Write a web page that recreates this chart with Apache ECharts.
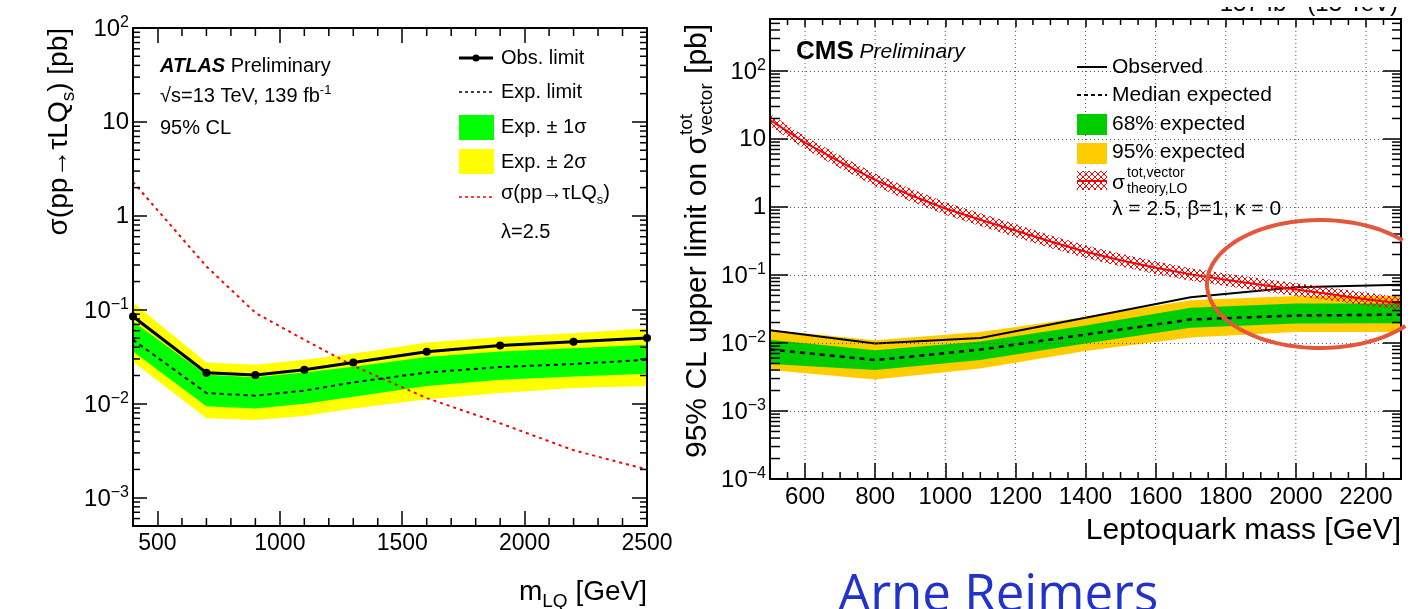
<!DOCTYPE html>
<html>
<head>
<meta charset="utf-8">
<title>Leptoquark limits: ATLAS vs CMS</title>
<script src="https://cdn.jsdelivr.net/npm/echarts@6.0.0/dist/echarts.min.js"></script>
<style>
  html, body { margin: 0; padding: 0; background: #fff; }
  #chart { width: 1420px; height: 609px; }
</style>
</head>
<body>
<div id="chart"></div>
<script>
var FONT = "'Liberation Sans', Arial, Helvetica, sans-serif";

// ---- ATLAS panel (left) ----
var atlasMass = [400, 700, 900, 1100, 1300, 1600, 1900, 2200, 2500];
var atlasObs = [0.085, 0.0214, 0.0203, 0.023, 0.0275, 0.0357, 0.0417, 0.0457, 0.050];
var atlasExp = [0.048, 0.013, 0.0122, 0.0138, 0.0169, 0.0215, 0.0246, 0.0265, 0.0294];
var atlas1sUp = [0.075, 0.0204, 0.0192, 0.0215, 0.0248, 0.0314, 0.036, 0.039, 0.0425];
var atlas1sDn = [0.036, 0.0094, 0.0089, 0.010, 0.0119, 0.0155, 0.018, 0.0195, 0.0209];
var atlas2sUp = [0.12, 0.0275, 0.026, 0.0294, 0.034, 0.0449, 0.0513, 0.0565, 0.0638];
var atlas2sDn = [0.028, 0.0070, 0.0067, 0.0074, 0.0089, 0.0112, 0.013, 0.0147, 0.0155];
var atlasTheory = [2.3, 0.29, 0.093, 0.048, 0.0254, 0.0115, 0.0062, 0.0032, 0.002];
var atlasXTicks = [500, 1000, 1500, 2000, 2500];

// ---- CMS panel (right) ----
var cmsMass = [500, 800, 1100, 1400, 1700, 2000, 2300];
var cmsObs = [0.0154, 0.0098, 0.0118, 0.0235, 0.047, 0.066, 0.072];
var cmsExp = [0.008, 0.0056, 0.008, 0.0133, 0.0221, 0.0253, 0.0261];
var cms68Up = [0.0112, 0.0078, 0.0105, 0.018, 0.033, 0.038, 0.038];
var cms68Dn = [0.0049, 0.0040, 0.0056, 0.0098, 0.0168, 0.0193, 0.0195];
var cms95Up = [0.0157, 0.011, 0.0145, 0.024, 0.0425, 0.049, 0.049];
var cms95Dn = [0.0040, 0.0029, 0.0042, 0.0076, 0.012, 0.0145, 0.0145];
var cmsTheoryMass = [500, 600, 700, 800, 900, 1000, 1100, 1200, 1300, 1400, 1500, 1600, 1700, 1800, 1900, 2000, 2100, 2200, 2300];
var cmsTheory = [19, 8.8, 4.6, 2.5, 1.5, 0.95, 0.65, 0.45, 0.31, 0.22, 0.165, 0.128, 0.102, 0.085, 0.072, 0.061, 0.052, 0.044, 0.038];
var cmsTheoryUp = [23.5, 10.9, 5.7, 3.1, 1.86, 1.18, 0.81, 0.56, 0.385, 0.273, 0.205, 0.159, 0.126, 0.105, 0.089, 0.076, 0.065, 0.055, 0.047];
var cmsTheoryDn = [15.4, 7.1, 3.7, 2.02, 1.21, 0.77, 0.525, 0.363, 0.25, 0.178, 0.133, 0.103, 0.082, 0.069, 0.058, 0.049, 0.042, 0.0355, 0.0307];
var cmsXTicks = [600, 800, 1000, 1200, 1400, 1600, 1800, 2000, 2200];

// minor ticks (axis decoration only)
var atlasXMinor = [];
for (var a = 400; a <= 2500; a += 100) { if (a % 500) atlasXMinor.push(a); }
var cmsXMinor = [];
for (var c = 500; c <= 2300; c += 50) { if (c % 200) cmsXMinor.push(c); }
function logMinors(lo, hi) {
  var out = [];
  for (var e = -5; e <= 3; e++) {
    for (var k = 2; k <= 9; k++) {
      var v = k * Math.pow(10, e);
      if (v > lo && v < hi) out.push(v);
    }
  }
  return out;
}

function pairs(xs, ys) {
  return xs.map(function (x, i) { return [x, ys[i]]; });
}

function decadeLabel(v) {
  var l = Math.log10(v), e = Math.round(l);
  if (Math.abs(l - e) > 1e-6) return '';
  if (e === 0) return '{b|1}';
  if (e === 1) return '{b|10}';
  return '{b|10}{s|' + (e < 0 ? '\u2212' + (-e) : e) + '}';
}

function bandSeries(name, xi, yi, mass, lo, hi, fill, z) {
  return {
    name: name, type: 'custom', xAxisIndex: xi, yAxisIndex: yi, z: z, silent: true,
    data: mass.map(function (m, i) { return [m, lo[i], hi[i]]; }),
    encode: { x: 0, y: [1, 2] },
    renderItem: function (params, api) {
      if (params.dataIndex !== 0) return null;
      var pts = [];
      for (var i = 0; i < mass.length; i++) pts.push(api.coord([mass[i], hi[i]]));
      for (var j = mass.length - 1; j >= 0; j--) pts.push(api.coord([mass[j], lo[j]]));
      return { type: 'polygon', shape: { points: pts }, style: { fill: fill } };
    }
  };
}

function minorTicks(xi, yi, dim, values, ref, lenA, lenB) {
  return {
    type: 'custom', xAxisIndex: xi, yAxisIndex: yi, z: 6, silent: true,
    data: values.map(function (v) { return dim === 'x' ? [v, ref] : [ref, v]; }),
    renderItem: function (params, api) {
      var cs = params.coordSys;
      var p = api.coord([api.value(0), api.value(1)]);
      var st = { stroke: '#000', lineWidth: 1.5 };
      if (dim === 'x') {
        return { type: 'group', children: [
          { type: 'line', shape: { x1: p[0], y1: cs.y + cs.height, x2: p[0], y2: cs.y + cs.height - lenA }, style: st },
          { type: 'line', shape: { x1: p[0], y1: cs.y, x2: p[0], y2: cs.y + lenB }, style: st }
        ] };
      }
      return { type: 'group', children: [
        { type: 'line', shape: { x1: cs.x, y1: p[1], x2: cs.x + lenA, y2: p[1] }, style: st },
        { type: 'line', shape: { x1: cs.x + cs.width, y1: p[1], x2: cs.x + cs.width - lenB, y2: p[1] }, style: st }
      ] };
    }
  };
}

// dotted vertical grid lines at the major mass ticks
function xGridLines(xi, yi, values, ref) {
  return {
    type: 'custom', xAxisIndex: xi, yAxisIndex: yi, z: 0.5, silent: true,
    data: values.map(function (v) { return [v, ref]; }),
    renderItem: function (params, api) {
      var cs = params.coordSys;
      var p = api.coord([api.value(0), api.value(1)]);
      return { type: 'line', shape: { x1: p[0], y1: cs.y, x2: p[0], y2: cs.y + cs.height },
        style: { stroke: '#555', lineWidth: 1, lineDash: [1, 3] } };
    }
  };
}

function hatchPattern() {
  var cv = document.createElement('canvas');
  cv.width = 6; cv.height = 6;
  var ctx = cv.getContext('2d');
  ctx.strokeStyle = '#ff0000';
  ctx.lineWidth = 1;
  ctx.beginPath();
  ctx.moveTo(0, 0); ctx.lineTo(6, 6);
  ctx.moveTo(6, 0); ctx.lineTo(0, 6);
  ctx.stroke();
  return { image: cv, repeat: 'repeat' };
}
var HATCH = hatchPattern();

var mctx = document.createElement('canvas').getContext('2d');
function textWidth(str, size) {
  mctx.font = size + 'px ' + FONT;
  return mctx.measureText(str).width;
}

function xAxisDef(grid, pos, min, max, majors, len, labelSize, showLabel) {
  return {
    type: 'value', gridIndex: grid, position: pos, min: min, max: max, z: 5,
    axisLine: { show: true, onZero: false, lineStyle: { color: '#000', width: 2 } },
    axisTick: { show: true, inside: true, length: len, customValues: majors, lineStyle: { color: '#000', width: 1.5 } },
    axisLabel: {
      show: showLabel, customValues: majors, margin: 6, fontSize: labelSize, color: '#000', fontFamily: FONT,
      formatter: function (v) { return String(v); }
    },
    splitLine: { show: false }
  };
}

function yAxisDef(grid, pos, min, max, split, len, showLabel, splitNumber) {
  return {
    type: 'log', logBase: 10, gridIndex: grid, position: pos, min: min, max: max, splitNumber: splitNumber, z: 5,
    axisLine: { show: true, onZero: false, lineStyle: { color: '#000', width: 2 } },
    axisTick: { show: true, inside: true, length: len, lineStyle: { color: '#000', width: 1.5 } },
    axisLabel: {
      show: showLabel, margin: 4, color: '#000', fontFamily: FONT, formatter: decadeLabel,
      rich: {
        b: { fontSize: 24, fontFamily: FONT, color: '#000', verticalAlign: 'bottom' },
        s: { fontSize: 16, fontFamily: FONT, color: '#000', verticalAlign: 'bottom', padding: [0, 0, 11, 0] }
      }
    },
    minorTick: { show: false },
    splitLine: split ? { show: true, lineStyle: { color: '#555', type: [1, 3], width: 1 } } : { show: false }
  };
}

function tok(size, extra) {
  var t = { fontSize: size, fontFamily: FONT, fill: '#000' };
  if (extra) for (var k in extra) t[k] = extra[k];
  return t;
}
function text(x, y, str, size, extra) {
  var st = {
    text: str, font: size + 'px ' + FONT, fontSize: size, fontFamily: FONT, fill: '#000',
    textAlign: 'left', align: 'left', textVerticalAlign: 'middle', verticalAlign: 'middle'
  };
  if (extra) for (var k in extra) st[k] = extra[k];
  return { type: 'text', x: x, y: y, z: 50, style: st };
}

var supRich = function (base, sup) {
  return { b: tok(base, { verticalAlign: 'bottom' }), s: tok(sup, { verticalAlign: 'bottom', padding: [0, 0, Math.round(base * 0.45), 0] }) };
};
var subRich = function (base, sub) {
  return { m: tok(base, { verticalAlign: 'top' }), s: tok(sub, { verticalAlign: 'top', padding: [Math.round(base * 0.5), 0, 0, 0] }) };
};

// ---- graphic: labels, legends, titles, annotation ----
var g = [];
// ATLAS header
g.push(text(160, 66, '{a|ATLAS}{p| Preliminary}', 20, {
  rich: { a: tok(20, { fontStyle: 'italic', fontWeight: 'bold' }), p: tok(20) }
}));
g.push(text(160, 95, '{b|\u221As=13 TeV, 139 fb}{s|-1}', 20, { rich: supRich(20, 13) }));
g.push(text(160, 128, '95% CL', 20));
// ATLAS legend
g.push({ type: 'line', z: 50, shape: { x1: 459, y1: 58, x2: 493, y2: 58 }, style: { stroke: '#000', lineWidth: 3 } });
g.push({ type: 'circle', z: 51, shape: { cx: 476, cy: 58, r: 3.5 }, style: { fill: '#000' } });
g.push(text(501, 58, 'Obs. limit', 20));
g.push({ type: 'line', z: 50, shape: { x1: 459, y1: 92, x2: 493, y2: 92 }, style: { stroke: '#000', lineWidth: 1.5, lineDash: [3, 3] } });
g.push(text(501, 92, 'Exp. limit', 20));
g.push({ type: 'rect', z: 50, shape: { x: 459, y: 115, width: 35, height: 25 }, style: { fill: '#00ff00' } });
g.push(text(501, 127, 'Exp. \u00b1 1\u03c3', 20));
g.push({ type: 'rect', z: 50, shape: { x: 459, y: 149, width: 35, height: 25 }, style: { fill: '#ffff00' } });
g.push(text(501, 162, 'Exp. \u00b1 2\u03c3', 20));
g.push({ type: 'line', z: 50, shape: { x1: 459, y1: 197, x2: 493, y2: 197 }, style: { stroke: '#ff0000', lineWidth: 1.5, lineDash: [3, 3] } });
g.push(text(501, 195, '{m|\u03c3(pp\u2192\u03c4LQ}{s|s}{m|)}', 20, { rich: subRich(20, 13) }));
g.push(text(501, 232, '\u03bb=2.5', 20));
// ATLAS axis titles
g.push({ type: 'text', x: 62, y: 28, rotation: Math.PI / 2, z: 50, style: {
  text: '{m|\u03c3(pp\u2192\u03c4LQ}{s|s}{m|) [pb]}', rich: subRich(28, 19), fill: '#000',
  textAlign: 'right', align: 'right', textVerticalAlign: 'middle', verticalAlign: 'middle'
} });
g.push(text(647, 595, '{m|m}{s|LQ}{m| [GeV]}', 28, { rich: subRich(28, 19), textAlign: 'right', align: 'right' }));

// CMS header
g.push(text(796, 52, '{c|CMS}{p| Preliminary}', 26, {
  rich: { c: tok(26, { fontWeight: 'bold' }), p: tok(21, { fontStyle: 'italic' }) }
}));
// luminosity label, mostly cut off by the top edge of the slide
g.push(text(1398, 3, '{b|137 fb}{s|-1}{b| (13 TeV)}', 24, { rich: supRich(24, 16), textAlign: 'right', align: 'right' }));
g.push({ type: 'rect', z: 55, shape: { x: 1150, y: 0, width: 270, height: 7 }, style: { fill: '#fff' } });
// CMS legend
g.push({ type: 'line', z: 50, shape: { x1: 1077, y1: 67, x2: 1107, y2: 67 }, style: { stroke: '#000', lineWidth: 2 } });
g.push(text(1112, 67, 'Observed', 21));
g.push({ type: 'line', z: 50, shape: { x1: 1077, y1: 95, x2: 1107, y2: 95 }, style: { stroke: '#000', lineWidth: 2, lineDash: [4, 3] } });
g.push(text(1112, 95, 'Median expected', 21));
g.push({ type: 'rect', z: 50, shape: { x: 1077, y: 114, width: 30, height: 21 }, style: { fill: '#00cc00' } });
g.push(text(1112, 124, '68% expected', 21));
g.push({ type: 'rect', z: 50, shape: { x: 1077, y: 143, width: 30, height: 21 }, style: { fill: '#ffcc00' } });
g.push(text(1112, 152, '95% expected', 21));
g.push({ type: 'rect', z: 50, shape: { x: 1077, y: 171, width: 30, height: 19 }, style: { fill: HATCH } });
g.push({ type: 'line', z: 51, shape: { x1: 1077, y1: 181, x2: 1107, y2: 181 }, style: { stroke: '#ff0000', lineWidth: 2 } });
g.push(text(1112, 183, '\u03c3', 21));
g.push(text(1127, 173, 'tot,vector', 14));
g.push(text(1127, 189, 'theory,LO', 14));
g.push(text(1112, 209, '\u03bb = 2.5, \u03b2=1, \u03ba = 0', 21));
// CMS axis titles
var cmsTitleMain = '95% CL upper limit on \u03c3';
var w1 = textWidth(cmsTitleMain, 30);
var wSub = textWidth('vector', 19);
g.push({ type: 'group', x: 698, y: 458, rotation: Math.PI / 2, z: 50, children: [
  text(0, 0, cmsTitleMain, 30),
  text(w1 + 1, -11, 'tot', 19),
  text(w1 + 1, 9, 'vector', 19),
  text(w1 + 2 + wSub, 0, ' [pb]', 30)
] });
g.push(text(1401, 531, 'Leptoquark mass [GeV]', 30, { textAlign: 'right', align: 'right' }));

// hand-drawn circle annotation
var ell = [];
for (var t = 41; t <= 317; t += 3) {
  var r = t * Math.PI / 180;
  ell.push([1320 + 113 * Math.cos(r), 284 + 64 * Math.sin(r)]);
}
g.push({ type: 'polyline', z: 60, shape: { points: ell }, style: { stroke: '#e4573a', lineWidth: 4, fill: null } });

// speaker name
g.push({ type: 'text', x: 838, y: 596, z: 50, style: {
  text: 'Arne Reimers', font: "51px 'Open Sans', 'Noto Sans', sans-serif", fill: '#2233cc',
  textAlign: 'left', align: 'left', textVerticalAlign: 'middle', verticalAlign: 'middle'
} });

var option = {
  animation: false,
  backgroundColor: '#fff',
  textStyle: { fontFamily: FONT },
  grid: [
    { left: 133, top: 28, width: 514, height: 498, containLabel: false, outerBoundsMode: 'none' },
    { left: 770, top: 19, width: 631, height: 460, containLabel: false, outerBoundsMode: 'none' }
  ],
  xAxis: [
    xAxisDef(0, 'bottom', 400, 2500, atlasXTicks, 15, 23, true),
    xAxisDef(0, 'top', 400, 2500, atlasXTicks, 15, 23, false),
    xAxisDef(1, 'bottom', 500, 2300, cmsXTicks, 16, 24, true),
    xAxisDef(1, 'top', 500, 2300, cmsXTicks, 8, 24, false)
  ],
  yAxis: [
    yAxisDef(0, 'left', 5e-4, 100, false, 14, true, 6),
    yAxisDef(0, 'right', 5e-4, 100, false, 15, false, 6),
    yAxisDef(1, 'left', 1e-4, 580, true, 18, true, 7),
    yAxisDef(1, 'right', 1e-4, 580, false, 18, false, 7)
  ],
  graphic: g,
  series: [
    // ATLAS
    bandSeries('Exp. \u00b1 2\u03c3', 0, 0, atlasMass, atlas2sDn, atlas2sUp, '#ffff00', 1),
    bandSeries('Exp. \u00b1 1\u03c3', 0, 0, atlasMass, atlas1sDn, atlas1sUp, '#00ff00', 1.5),
    {
      name: '\u03c3(pp\u2192\u03c4LQs)', type: 'line', xAxisIndex: 0, yAxisIndex: 0, z: 3,
      data: pairs(atlasMass, atlasTheory), symbol: 'none',
      lineStyle: { color: '#ff0000', width: 2, type: [3, 4] }
    },
    {
      name: 'Exp. limit', type: 'line', xAxisIndex: 0, yAxisIndex: 0, z: 3,
      data: pairs(atlasMass, atlasExp), symbol: 'none',
      lineStyle: { color: '#000', width: 2, type: [4, 4] }
    },
    {
      name: 'Obs. limit', type: 'line', xAxisIndex: 0, yAxisIndex: 0, z: 4,
      data: pairs(atlasMass, atlasObs), symbol: 'circle', symbolSize: 8, showSymbol: true,
      itemStyle: { color: '#000' }, lineStyle: { color: '#000', width: 3 }
    },
    minorTicks(0, 0, 'x', atlasXMinor, 1, 8, 8),
    minorTicks(0, 0, 'y', logMinors(5e-4, 100), 400, 7, 7),
    // CMS
    xGridLines(2, 2, cmsXTicks, 1),
    bandSeries('95% expected', 2, 2, cmsMass, cms95Dn, cms95Up, '#ffcc00', 1),
    bandSeries('68% expected', 2, 2, cmsMass, cms68Dn, cms68Up, '#00cc00', 1.5),
    {
      name: 'Median expected', type: 'line', xAxisIndex: 2, yAxisIndex: 2, z: 3,
      data: pairs(cmsMass, cmsExp), symbol: 'none',
      lineStyle: { color: '#000', width: 2.5, type: [5, 5] }
    },
    {
      name: 'Observed', type: 'line', xAxisIndex: 2, yAxisIndex: 2, z: 3,
      data: pairs(cmsMass, cmsObs), symbol: 'none',
      lineStyle: { color: '#000', width: 2 }
    },
    bandSeries('theory band', 2, 2, cmsTheoryMass, cmsTheoryDn, cmsTheoryUp, HATCH, 3.5),
    {
      name: 'theory', type: 'line', xAxisIndex: 2, yAxisIndex: 2, z: 4,
      data: pairs(cmsTheoryMass, cmsTheory), symbol: 'none',
      lineStyle: { color: '#ff0000', width: 2 }
    },
    minorTicks(2, 2, 'x', cmsXMinor, 1, 7, 6),
    minorTicks(2, 2, 'y', logMinors(1e-4, 580), 500, 10, 9)
  ]
};

var chart = echarts.init(document.getElementById('chart'));
chart.setOption(option);
</script>
</body>
</html>
